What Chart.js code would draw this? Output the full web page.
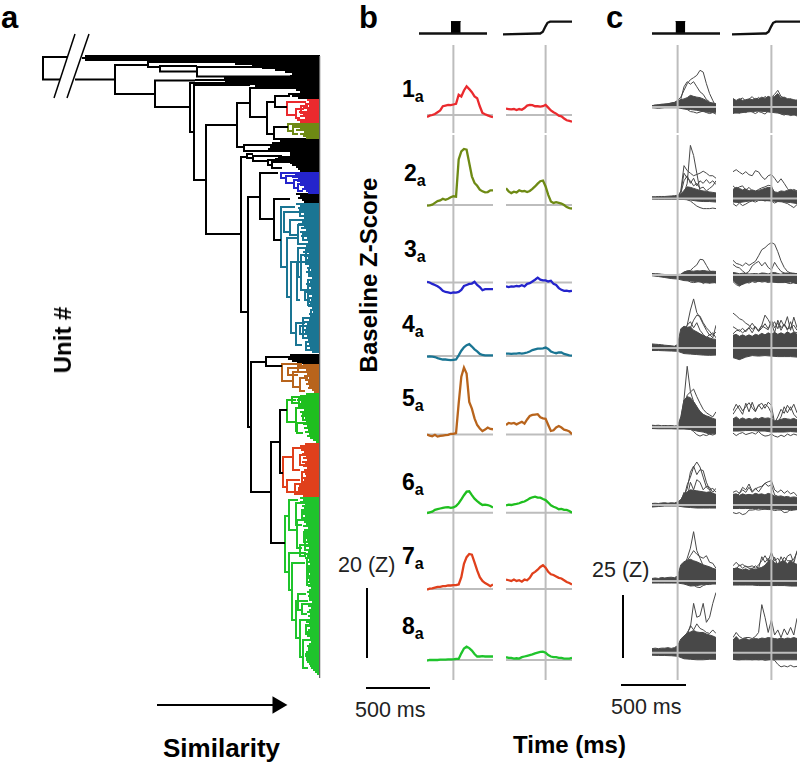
<!DOCTYPE html>
<html>
<head>
<meta charset="utf-8">
<script src="https://cdn.jsdelivr.net/npm/chart.js@4/dist/chart.umd.min.js"></script>
<style>
  body { margin: 0; background: #fff; width: 800px; height: 766px; position: relative; overflow: hidden; font-family: "Liberation Sans", Arial, sans-serif; color: #000; }
  canvas { position: absolute; }
  .t { position: absolute; white-space: nowrap; line-height: 1; }
  .panel { font-size: 31px; font-weight: bold; }
  .row { font-size: 23px; font-weight: bold; }
  .row sub { font-size: 16px; vertical-align: -5px; line-height: 0; }
  .scale { font-size: 21.5px; color: #222; }
  .axis { font-size: 24px; font-weight: bold; }
  .sim { font-size: 26px; }
  .rot { transform: translate(-50%, -50%) rotate(-90deg); }
</style>
</head>
<body>
<script>
// time grids, ms from the event
const bTimeLeft = [-200,-180,-160,-140,-120,-100,-80,-60,-40,-20,0,20,40,60,80,100,120,140,160,180,200,220,240,260,280,300];
const bTimeRight = [-300,-280,-260,-240,-220,-200,-180,-160,-140,-120,-100,-80,-60,-40,-20,0,20,40,60,80,100,120,140,160,180,200];
const cTimeLeft = [-200,-175,-150,-125,-100,-75,-50,-25,0,25,50,75,100,125,150,175,200,225,250,275,300];
const cTimeRight = [-300,-275,-250,-225,-200,-175,-150,-125,-100,-75,-50,-25,0,25,50,75,100,125,150,175,200];
const cLowTimeLeft = [-200,-150,-100,-50,0,50,100,150,200,250,300];
const cLowTimeRight = [-300,-250,-200,-150,-100,-50,0,50,100,150,200];

// panel b, cluster means (Z)
const b1L = [-.6,-.2,0,.3,.8,1.3,2.5,2.7,2.9,2.8,3,3.2,5.8,5.3,7,8.2,7.4,6.5,5.3,4.8,2.5,.6,.2,-.1,-.4,-.6];
const b1R = [1.8,1.7,1.6,1.7,1.4,1.7,1.5,2,2.7,2.9,2.8,2.5,2.5,2.4,2.5,2.9,2.1,1.3,.8,.4,-.2,-.4,-1,-1.5,-1.7,-1.9];
const b2L = [-.2,-.1,.1,.6,1.1,1.3,1.8,1.5,1.8,2.2,2.5,2.4,13,15.3,16,15.8,12,8.2,6.3,5.5,4.4,3.9,3.6,3.7,4.2,4.2];
const b2R = [4.8,3.9,3.4,3.8,3.6,4.2,3.9,4,3.7,4,4.6,5.3,6.1,6.8,7,5.3,2.9,1,.6,.8,.6,.4,0,-.6,-.9,-1];
const b3L = [.2,0,-.4,-.7,-1.1,-1.6,-2.4,-2.7,-2.8,-3,-2.8,-2.9,-2.7,-2.1,-1,-.7,-.4,-.3,.2,-.7,-1.3,-2.2,-1.9,-1.9,-1.9,-1.9];
const b3R = [-1.1,-1.3,-1.1,-1.2,-1,-1.1,-.8,-1.1,-.4,-.2,.3,.8,1.4,.8,.6,.6,.3,.5,-.4,-.7,-1.6,-2.1,-2.4,-2.3,-2.5,-2.4];
const b4L = [-.2,-.1,-.2,-.3,-.6,-.8,-1,-1,-1.1,-1.2,-1.1,-1,.2,1.5,2.5,3.1,3.4,2.7,1.9,1.3,.6,.3,.2,.2,.2,.2];
const b4R = [.7,.7,.6,.7,.7,.8,.7,.8,1,1.3,1.7,1.9,2.1,2.1,2.2,2.4,2,1.3,1,.8,1,1,.6,.4,.2,.1];
const b5L = [0,-.3,-.5,-.1,-.6,-.4,-.3,-.2,-.1,.2,.2,.4,8.9,16.5,19.1,17.4,9.3,7.4,4.6,2.7,1.7,1,1.4,2,1.6,1.5];
const b5R = [2.7,3.3,3.1,3.3,2.9,3.3,3.6,3.1,4.3,5.3,5.6,5.7,5.8,4.9,4.6,4.5,2.7,1,1.2,2,2.4,2,1.4,1.2,.9,.1];
const b6L = [-.1,.1,.3,.8,1,1.2,1.4,1.5,1.6,1.4,1.5,1.9,2.7,3.8,5,6,6.1,5,4,3.3,2.7,2.2,2.3,2.2,1.9,1.5];
const b6R = [2.1,2.3,2.2,2.4,2.5,2.7,3,3.2,3.6,4.1,4.4,4.6,4.3,4.3,3.9,3.6,2.9,2.1,1.7,1.4,1,1.1,.8,.8,.5,0];
const b7L = [-.2,.1,.2,.4,.6,.6,.8,.8,1,1,1.1,1.1,1.3,3.4,7.2,9.1,10,9.8,7.6,5.3,3.4,2.3,1.7,1.3,.8,1.3];
const b7R = [2.7,2.5,2.3,2.7,2.3,2.5,2.1,2.7,2.5,3.2,4.4,4.9,5.5,6.3,6.8,6.1,4.9,4.2,4,3.6,3.2,3,2.5,2,1.7,1.3];
const b8L = [-.2,0,0,0,0,.1,.1,.1,.2,.2,.2,.3,.3,1.9,3.3,3.8,3.4,2.7,1.7,1,1,1.1,1,1,1,1];
const b8R = [.8,.6,.6,.4,.5,.4,.8,1,1.2,1.4,1.6,1.9,2.1,2.3,2.4,2.1,1.4,1,.8,.8,.6,.6,.4,.4,.4,.6];
const clusterColors = ['#ea2a2e', '#6e8a14', '#2424cc', '#1a7593', '#b8641c', '#1fbf1f', '#e0401c', '#1fc42c'];

// panel c, envelope of the dense unit traces plus the units that stand out (Z)
const c1LU = [.5,.7,.9,1.1,1.2,1.3,1.6,1.8,2.4,2.9,3.2,3.7,4.6,4.2,3.9,3.7,3.2,2.6,1.8,1.6,1.3];
const c1LD = [-.3,-.5,-.3,-.3,-.3,-.8,-1,-1.3,-1.8,-2.1,-2.1];
const c1LT = [
  [.5,.8,.6,1,.9,1.2,1.5,1.8,2.6,3.9,6.6,9.2,10.8,11.6,12.5,14.5,13.8,9.2,5.3,2.6,0],
  [.3,.5,.9,.7,1.1,1,1.4,1.5,2,3,8,10,9,10,8,6,5,3,2,.5,-.5],
  [0,.2,-.2,.1,0,-.2,.2,.3,.4,0,-.5,-1,-1.8,-2,-2.4,-2,-1.6,-2.2,-2.6,-2.2,-2.8]];
const c1RU = [3.3,2.6,3.3,2.6,2.9,3.2,2.9,3.4,3.2,3.9,3.4,4.2,3.7,4.2,5.3,3.6,3.9,3.3,3.2,2.9,2.6];
const c1RD = [-2.4,-2.4,-2,-1.8,-1.6,-1.8,-2.1,-2.4,-2.9,-3.2,-3.2];
const c1RT = [
  [3.4,1.8,2.9,3.6,2.2,3.1,4.1,2.7,3.8,2.6,4.2,3,3.8,5,6.6,4.2,3.6,2.4,3.2,2.2,2.8],
  [-2.6,-1.8,-2.4,-1.6,-2.2,-1.4,-2,-2.6,-1.8,-2.2,-2.8,-1.6,-2.2,-1.4,-2,-2.8,-3.2,-2.6,-3.4,-2.8,-3.6]];

const c2LU = [.7,.7,.8,.8,.8,.9,1,1.1,1.3,1.6,3.2,4.6,4.4,4,3.6,3.2,3,2.8,2.6,2.4,2.2];
const c2LD = [-.3,-.4,-.4,-.4,-.4,-.4,-.6,-1,-1.2,-1.2,-1.4];
const c2LT = [
  [null,null,null,null,null,null,null,null,.5,1,2,6,21,17,10,3,1.5,1,1.6,1.4,1.2],
  [null,null,null,null,null,null,null,null,.6,3,13,11,10,9,9.5,10,10.8,10,9,9,8],
  [null,null,null,null,null,null,null,null,.4,2.5,10,8,7,5,6,4,4.5,3,4,5,7],
  [null,null,null,null,null,null,null,null,.4,2,7,9,6,8,5,7,6,7.5,6,7,5.5],
  [null,null,null,null,null,null,null,null,0,0,0,-.5,-1,-2,-3,-3.6,-4,-4,-4,-3.8,-4]];
const c2RU = [3.6,4.4,4,3.4,3.8,3,3.4,3,3.2,3.6,4,4.4,4.2,2.6,2.4,3,2.8,3.2,3.6,3.2,2.8];
const c2RD = [-1.4,-1.6,-1.2,-.8,-.6,-.8,-1,-1.2,-1.4,-1.6,-2];
const c2RT = [
  [10.6,11.4,10.4,9.6,10.6,9.4,9,11,10.5,8.6,7.5,9,9.5,8,6.2,7.8,6,4,2.2,1.4,1],
  [5,3.8,4.6,5,3.2,4.4,3,2.8,3.6,4.2,4.6,5.2,5,2,.5,1.4,.6,1.8,2.6,3.6,3],
  [-2,-3,-1.8,-2.8,-2.2,-1.4,-1,-1.4,-.8,-.6,-1,-.6,-1,-1.8,-1.2,-1,-1.6,-2,-2.8,-3.6,-2.4]];

const c3LU = [.6,.5,.5,.3,.2,.1,0,-.1,.2,.3,1.2,1.6,1.6,1.5,1.7,1.6,1.8,1.6,1.4,1.5,1.4];
const c3LD = [-.3,-.6,-1,-1.4,-1.6,-2.2,-2.4,-2.6,-3,-3.2,-3];
const c3LT = [
  [null,null,null,null,null,null,null,null,null,.2,1,1.6,1.8,3,4,6.2,6,3.8,1.6,1.2,.9],
  [null,null,null,null,null,null,null,null,null,-1,-1.6,-2,-2.8,-3,-2.8,-2.2,-3.4,-2.6,-3.2,-2.6,-3.2]];
const c3RU = [1,.8,.5,.7,.6,.4,.5,.6,.4,.8,.7,.4,.9,1,.6,.3,.7,.8,.6,.7,.5];
const c3RD = [-2.2,-4.2,-3.2,-2.4,-2.6,-2.4,-2.8,-3,-3,-2.8,-3.4];
const c3RT = [
  [5.8,4.6,4.2,3.6,4.8,3.8,4.6,5.4,7.6,10,10.8,12,12.8,12.2,9.2,5.6,3,1.4,.8,.6,.4],
  [4.2,3.2,2.8,1.6,.6,1.4,3.6,4.6,5.4,3.6,5,3,2,5,3,1.4,.8,.2,.8,.4,.6],
  [-2.6,-3.8,-4.4,-3.4,-2.8,-3.2,-2.6,-3,-2.4,-2.8,-2.6,-3,-2.6,-2.4,-3,-2.8,-2.6,-3.2,-3.4,-3,-3.4]];

const c4LU = [1.6,1.5,1.4,1.3,1.1,1,.9,.7,1.4,7.6,8.6,8.2,8.4,7,6.4,5.6,5,4.4,4,3.6,3.4];
const c4LD = [-1,-1,-1.1,-1.2,-1.3,-2.2,-2.4,-2.6,-2.8,-2.9,-2.8];
const c4LT = [
  [null,null,null,null,null,null,null,null,1,3,6,9,15,19.4,14,12,9.4,7,5,6,4],
  [null,null,null,null,null,null,null,null,1,4,8,7,8,11,13,12.6,10,8,6.6,5,6.4],
  [null,null,null,null,null,null,null,null,1,4,7,9,10.4,8,10,7,5.4,4,5.4,4,9]];
const c4RU = [5,5.4,4.6,5.2,4.6,5.2,4.6,5.4,5,5.8,5.2,6,5.4,6.2,5.4,6,5.4,6.4,5.6,6.2,5.4];
const c4RD = [-3.8,-4.6,-3.6,-3,-3.2,-3,-3.2,-3.4,-3.4,-3.4,-3.6];
const c4RT = [
  [13.8,12.8,11.6,11,9.8,9,7.4,8.4,6.6,7.8,9.6,7.6,10,6,11,8,9.4,7,10.4,6.4,6],
  [8.4,7.6,6.6,7.8,6.4,8,9.8,8,7,9,13,11.2,8.8,10.4,7.6,11,8.6,12.4,7,12.2,8],
  [5.6,6.8,7.2,6,7,8,6,8.4,6.6,8.8,8,7.2,11,8,10,7,9.4,7.6,8,9,7]];

const c5LU = [.7,.6,.7,.5,.6,.5,.6,.4,.5,4,10.6,12,11.6,10,8,6.2,5,4.4,4,3.4,3];
const c5LD = [-.6,-.7,-.7,-.7,-.8,-.8,-1,-1.6,-2,-2.8,-2.6];
const c5LT = [
  [null,null,null,null,null,null,null,null,.4,3,11,24,14,10,8,5,3,2,1.4,1.6,2.8],
  [null,null,null,null,null,null,null,null,.4,2,8,12.6,13.8,15,12,9.4,7,5.6,4.8,4,6],
  [null,null,null,null,null,null,null,null,.2,0,-.2,-.4,-.8,-1.8,-3,-3.6,-3,-3.4,-2.8,-3.2,-2.6]];
const c5RU = [3.2,4,3,3.6,3,3.4,3,3.6,3.2,3.8,3.4,3.6,3.2,2.4,2.6,3,3.4,3.2,3,3.4,2.8];
const c5RD = [-1.6,-1.6,-1.4,-1.4,-1.6,-1.6,-2,-2,-2,-1.8,-2];
const c5RT = [
  [6.4,9,7,5,9.4,6,9.8,6.4,8.6,9.4,7.4,9.8,8.6,1.6,4,7,5.4,8.6,6.6,9,5.6],
  [5,7,8.6,6.4,8,9.6,7.6,6,8.8,7,9,8,5.4,1,2,4,8,5.6,8,5,3.6],
  [-2.4,-3.4,-2.6,-2.2,-3,-2.6,-2.2,-2.8,-1.8,-3,-3.6,-3.4,-2.8,-3.6,-4,-3.2,-3.8,-2.8,-3.4,-2.8,-3.2]];

const c6LU = [.6,.7,.6,.8,.9,.7,.9,.8,1.2,2,4.4,5.2,6,5.8,5.6,5.4,5.2,5,5.2,4.6,4.2];
const c6LD = [-.8,-.6,-.4,-.4,-.4,-.8,-1,-1.2,-1.2,-1.2,-1.2];
const c6LT = [
  [null,null,null,null,null,null,null,null,1.2,2,3,8,11,15,17,15,11,7,6,4,3],
  [null,null,null,null,null,null,null,null,1,2,4,6.4,13,15.4,12,14,13.6,9,6,6.6,5],
  [null,null,null,null,null,null,null,null,.8,1.4,5,3,9,6,10,9,6,7.4,7,5,6.6]];
const c6RU = [4.2,4.4,3.8,4.4,4,4.2,4,4.6,4.2,4.4,4,4.6,4.2,3.6,3.4,3.6,3.2,3.4,3,3.2,3];
const c6RD = [-1.4,-1.4,-1.4,-1.4,-1.4,-1.6,-1.6,-1.6,-1.8,-1.8,-1.8];
const c6RT = [
  [5,5.6,4.6,7,6,8.3,5.4,6.6,5.2,7,8.6,9.2,9.6,6,5,6,4.6,5.6,4.4,5,3.6],
  [-3,-3.4,-3,-3.8,-3.4,-2,-2,-1.8,-2,-1.8,-1.6,-1.8,-1.8,-2.2,-2,-2,-3,-2.8,-1.6,-1.6,-1.6],
  [2,3,4.6,6,5,7,5,6.4,7,7.4,8.6,7.4,8,4,3.4,2,-1.4,-1.8,-2.2,-2,-1.8]];

const c7LU = [1,1.2,1,1.4,1.2,1.4,1.5,1.3,2,6.4,7.6,8.2,8.6,8,7.6,7,6.4,6,5.6,5,4.6];
const c7LD = [-.8,-.8,-.8,-.8,-.8,-1.2,-2,-1.8,-1.4,-1.2,-1.2];
const c7LT = [
  [null,null,null,null,null,null,null,null,1.4,3,6,9,13,19.5,12,9,6,5,4,3.6,3],
  [null,null,null,null,null,null,null,null,1,3,5,8,10,12,10.6,9.6,9,10,7.4,7,5],
  [null,null,null,null,null,null,null,null,.6,0,-.4,-.6,-1,-1.6,-2.4,-2.6,-1.8,-1.4,-1.4,-1,-1]];
const c7RU = [4.6,5.2,4.8,4.4,4.8,4.2,4.8,4.6,5,5.4,6.2,7.8,8.6,7.2,6.8,7.6,8,6.8,8,7,6.6];
const c7RD = [-1.6,-1.6,-1.6,-1.6,-1.8,-1.8,-1.8,-1.8,-1.8,-2,-2];
const c7RT = [
  [6,7.4,6,6.6,5.6,5.6,6,5,6.4,8,10,7.8,11.4,8,9,7,9.4,8,8,8.6,11.4],
  [5,4.6,6.4,5,6,5,5,6,5,9.6,7.4,9,6.6,9.4,6,9.6,7,9.8,10.6,7,12]];

const c8LU = [1.6,1.8,1.6,1.8,1.8,2,1.7,2,2.8,5.4,6.6,7.8,8.2,8.8,8.2,8,8,7.4,7,6.6,6];
const c8LD = [-1,-1.1,-1.1,-1.2,-1.4,-2.4,-2.6,-2.8,-2.8,-2.6,-2.6];
const c8LT = [
  [null,null,null,null,null,null,null,null,2,3,5,8,10,19.5,14,14.6,19.5,12,14,19.5,23.8],
  [null,null,null,null,null,null,null,null,2,3,4,7,10.8,9,11.4,9.6,9,8,7.6,9,7.6]];
const c8RU = [5,6.4,5,5.4,5.6,5,5.4,5.6,5.4,5.8,5.6,6,5.8,5.6,5.4,5.8,5.4,5.8,5.6,6,5.6];
const c8RD = [-2.6,-2.8,-2.8,-2.8,-2.8,-2.8,-2.8,-2.8,-2.8,-2.8,-2.8];
const c8RT = [
  [6,8,6.4,5.6,6,6,5.6,6.4,8,19,14,8,13,7,9,6,9.4,7,10,7,13.6],
  [-2.6,-2.8,-2.8,-2.6,-2.4,-2.6,-2.8,-2.6,-2.8,-2.6,-3,-2.8,-2.6,-3,-4.6,-5.6,-5.2,-5.6,-5,-5.6,-5.4]];

// stimulus traces at the top of panels b and c
const stimPulseT = [-19, 55];
const stimRiseT = [-330, -60, -40, -20, 0, 15, 35, 220];
const stimRise = [-.08, 0, 0, .15, .6, .9, 1, 1];

// panel a: branch points as [x, top y, top end x, bottom y, bottom end x]
const linksBlack = [
  [43,57,67,79.5,60],[75,79.5,115,79.5,75],[115,65,148,94,155],[148,62,240,67,160],[160,66,197,71.5,197],[197,67,270,76.5,290],
  [155,80.5,195,107,190],[190,83,225,132,194],[194,85,250,180,206],[206,125,237,234,241],[237,103,250,147,244],[250,88,282,117,267],
  [267,102,275,134,274],[275,96,290,107,287],[274,127,288,139,295],[244,145,272,151,258],[241,157,247,312,248],
  [247,154,253,158,253],[253,156,282,161,268],[268,160,285,165,272],[272,162,292,168,282],
  [248,197,260,427,251],[260,173,278,219,274],[274,199,290,240,281],[251,362,266,492,271],[266,357,285,366,282],
  [271,442,280,543,285],[280,410,287,473,283]];
const linksRed = [[287,102,306,115,296],[296,109,304,118,300],[301,106,308,113,306]];
const linksOlive = [[288,124,298,131,293],[293,127,302,134,298]];
const linksBlue = [[281,173,292,178,286],[286,176,296,183,294],[294,180,302,188,298],[298,184,306,191,303]];
const linksTeal = [[281,207,295,267,287],[284,212,300,232,290],[290,220,308,235,298],[287,238,298,297,291],[291,262,297,333,296],
  [298,248,308,277,301],[301,255,310,290,308],[308,280,314,305,311],[296,323,305,345,302],[303,318,312,338,308],[297,262,306,300,300],
  [300,208,312,216,305],[305,212,314,222,309],[298,225,310,244,303],[303,232,313,240,308],[306,250,314,262,310],[309,268,316,276,313],
  [305,292,315,300,310],[311,310,317,320,314],[300,326,310,334,306],[306,342,313,350,309],[302,205,306,212,304]];
const linksBrown = [[282,364,302,381,293],[288,368,303,375,298],[293,372,305,387,300],[300,378,308,391,305],[298,366,306,372,303]];
const linksGreenA = [[287,400,296,422,296],[292,397,300,403,298],[296,408,302,431,297],[297,423,306,433,303],[303,412,310,420,307],[299,398,306,406,303]];
const linksOrange = [[283,457,293,487,287],[293,448,303,470,300],[287,480,300,492,295],[300,455,308,465,306],[302,472,309,482,306],[295,484,304,494,300]];
const linksGreenB = [[285,516,290,572,289],[289,500,298,530,296],[296,503,306,525,302],[302,512,309,520,307],[297,520,304,548,302],
  [289,553,306,590,292],[292,563,305,620,296],[296,601,308,638,300],[300,620,310,657,303],[303,640,312,668,308],[307,558,314,585,312],[305,530,312,550,310],
  [306,505,314,515,310],[304,532,312,542,308],[300,545,310,556,306],[308,570,316,578,312],[310,590,316,600,314],[302,604,312,614,307],
  [306,625,315,634,310],[309,646,316,656,312],[298,594,306,610,303],[311,612,317,626,314]];

// panel a: where each unit's leaf starts, one entry per 2 rows
const leavesTop = [85,82,85,205,235,252,262,275,285,292,290,224,195,225,222,255,277,296,300,288,292,298];
const leavesRed = [307,309,305,309,303,307,299,303,300,305,297,300];
const leavesOlive = [297,292,300,296,304,300,303,306];
const leavesMid = [283,280,272,272,270,268,258,290,290,278,275,285,290,292,296,298,300];
const leavesBlue = [292,295,292,298,297,300,300,304,302,306,308];
const leavesGap = [296,300,298,302,304];
const leavesTeal = [296,300,298,303,299,304,301,306,299,302,298,304,301,306,300,304,301,307,303,308,302,306,301,305,303,309,304,308,306,310,305,309,307,311,306,310,308,312,307,310,306,309,311,307,310,308,312,309,311,307,310,308,312,310,313,309,311,306,309,304,307,303,306,302,305,303,307,304,308,305,309,306,310,309,312];
const leavesLow = [290,285,288,292,297];
const leavesBrown = [303,305,300,306,303,307,304,309,305,308,306,309,308,312,314];
const leavesGreenA = [306,300,303,297,301,298,302,299,304,300,303,301,305,302,306,303,307,304,308,305,309,307,310,313,316];
const leavesOrange = [305,300,303,301,304,302,306,303,307,302,305,303,307,304,308,305,306,303,304,302,301,299,298,298,296,299,303];
const leavesGreenB = [300,303,300,305,302,304,301,306,303,305,302,307,304,306,303,308,305,307,304,306,303,307,305,308,305,309,306,308,304,307,305,309,307,310,308,306,309,307,310,308,311,309,307,310,308,311,309,307,310,308,311,309,312,310,308,311,309,307,310,308,311,309,306,309,307,310,308,306,309,307,310,308,311,309,307,310,308,306,305,305,306,306,307,309,310,311,313,315,317,319];

const rowBaseB = [115, 205, 282.5, 356, 434.5, 512.7, 589, 660];
const rowBoundsB = [[45,133],[135,240],[240,320],[320,363],[363,470],[470,550],[550,625],[625,680]];
const rowBaseC = [107, 198.5, 275, 348, 427, 505, 581, 652.7];
const rowBoundsC = [[45,133],[135,237],[237,292],[292,364],[364,450],[450,525],[525,590],[590,680]];
const rowNames = ['1', '2', '3', '4', '5', '6', '7', '8'];
const gray = '#bdbdbd', cDark = '#484848';

Chart.defaults.animation = false;
Chart.defaults.events = [];

function xy(xs, ys) {
  return xs.map((x, i) => ({x, y: ys[i]}));
}
function line(data, color, width, extra) {
  return Object.assign({data, borderColor: color, borderWidth: width, pointRadius: 0, showLine: true, fill: false, tension: 0, spanGaps: false}, extra);
}

// one small chart at a fixed place on the page, scales hidden so the plot area is the whole canvas
function place(left, right, top, bottom, xRange, yRange, datasets) {
  const canvas = document.createElement('canvas');
  canvas.width = right - left;
  canvas.height = bottom - top;
  canvas.style.left = left + 'px';
  canvas.style.top = top + 'px';
  document.body.appendChild(canvas);
  return new Chart(canvas, {
    type: 'scatter',
    data: {datasets},
    options: {
      responsive: false,
      maintainAspectRatio: false,
      layout: {padding: 0, autoPadding: false},
      plugins: {legend: {display: false}, tooltip: {enabled: false}},
      scales: {
        x: {type: 'linear', display: false, min: xRange[0], max: xRange[1]},
        y: {type: 'linear', display: false, min: yRange[0], max: yRange[1], reverse: yRange[0] > yRange[1]}
      }
    }
  });
}

function cell(left, right, xRange, bounds, base, pxPerZ, build) {
  const yRange = [(base - bounds[1]) / pxPerZ, (base - bounds[0]) / pxPerZ];
  const event = line(xy([0, 0], yRange), gray, 2);
  const zero = line(xy(xRange, [0, 0]), gray, 2);
  place(left, right, bounds[0], bounds[1], xRange, yRange, build(event, zero));
}

function drawB(left, right, xRange, times, series) {
  series.forEach((values, i) => {
    cell(left, right, xRange, rowBoundsB[i], rowBaseB[i], 3.5, (event, zero) => [
      line(xy(times, values), clusterColors[i], 2.3),
      event, zero
    ]);
  });
}

function drawC(left, right, xRange, times, lowTimes, series) {
  series.forEach((s, i) => {
    cell(left, right, xRange, rowBoundsC[i], rowBaseC[i], 2.53, (event, zero) => {
      const traces = s.traces.map(values => line(xy(times, values), cDark, 1));
      const first = 2 + traces.length;
      return [event, zero, ...traces,
        line(xy(times, s.up), cDark, 1, {fill: first + 1, backgroundColor: cDark}),
        line(xy(lowTimes, s.low), cDark, 1)];
    });
  });
}

function stim(left, right, xRange, kind) {
  const yRange = [-.375, 1.3];
  if (kind === 'pulse') {
    place(left, right, 18, 38, xRange, yRange, [
      line(xy(xRange, [0, 0]), '#111', 2.3),
      line(xy(stimPulseT, [1, 1]), '#000', 1, {fill: {value: 0}, backgroundColor: '#000'})
    ]);
  } else {
    place(left, right, 18, 38, xRange, yRange, [line(xy(stimRiseT, stimRise), '#111', 2.3)]);
  }
}

function addLinks(links) {
  const points = [];
  links.forEach(([x, yTop, xTop, yBot, xBot]) => {
    points.push({x: xTop, y: yTop}, {x, y: yTop}, {x, y: yBot}, {x: xBot, y: yBot}, {x: NaN, y: NaN});
  });
  return points;
}
function addLeaves(firstRow, starts) {
  const points = [];
  starts.forEach((x, i) => {
    const y = firstRow + i * 2;
    points.push({x, y}, {x: 320, y}, {x: NaN, y: NaN});
  });
  return points;
}

// panel a
place(40, 321, 30, 682, [40, 321], [682, 30], [
  line(xy([319.6, 319.6], [56, 678]), '#666', 1),
  line(addLinks(linksBlack), '#000', 2),
  line(addLinks(linksRed), clusterColors[0], 2),
  line(addLinks(linksOlive), clusterColors[1], 2),
  line(addLinks(linksBlue), clusterColors[2], 2),
  line(addLinks(linksTeal), clusterColors[3], 2),
  line(addLinks(linksBrown), clusterColors[4], 2),
  line(addLinks(linksGreenA), clusterColors[5], 2),
  line(addLinks(linksOrange), clusterColors[6], 2),
  line(addLinks(linksGreenB), clusterColors[7], 2),
  line(addLeaves(56, leavesTop), '#000', 2.2),
  line(addLeaves(100, leavesRed), clusterColors[0], 2.2),
  line(addLeaves(124, leavesOlive), clusterColors[1], 2.2),
  line(addLeaves(139, leavesMid), '#000', 2.2),
  line(addLeaves(173, leavesBlue), clusterColors[2], 2.2),
  line(addLeaves(194, leavesGap), '#000', 2.2),
  line(addLeaves(204, leavesTeal), clusterColors[3], 2.2),
  line(addLeaves(355, leavesLow), '#000', 2.2),
  line(addLeaves(364, leavesBrown), clusterColors[4], 2.2),
  line(addLeaves(394, leavesGreenA), clusterColors[5], 2.2),
  line(addLeaves(444, leavesOrange), clusterColors[6], 2.2),
  line(addLeaves(498, leavesGreenB), clusterColors[7], 2.2),
  line(xy([75, 54], [34, 98]), '#000', 1.5),
  line(xy([89, 67], [34, 98]), '#000', 1.5)
]);

// panel b
stim(419, 487, [-262, 255], 'pulse');
stim(503, 572, [-321, 200], 'rise');
drawB(427, 493, [-200, 300], bTimeLeft, [b1L, b2L, b3L, b4L, b5L, b6L, b7L, b8L]);
drawB(506, 572, [-300, 200], bTimeRight, [b1R, b2R, b3R, b4R, b5R, b6R, b7R, b8R]);

// panel c
stim(652, 720, [-198, 319], 'pulse');
stim(732, 800, [-300, 220], 'rise');
drawC(652, 716, [-200, 300], cTimeLeft, cLowTimeLeft, [
  {up: c1LU, low: c1LD, traces: c1LT}, {up: c2LU, low: c2LD, traces: c2LT},
  {up: c3LU, low: c3LD, traces: c3LT}, {up: c4LU, low: c4LD, traces: c4LT},
  {up: c5LU, low: c5LD, traces: c5LT}, {up: c6LU, low: c6LD, traces: c6LT},
  {up: c7LU, low: c7LD, traces: c7LT}, {up: c8LU, low: c8LD, traces: c8LT}]);
drawC(733, 797, [-300, 200], cTimeRight, cLowTimeRight, [
  {up: c1RU, low: c1RD, traces: c1RT}, {up: c2RU, low: c2RD, traces: c2RT},
  {up: c3RU, low: c3RD, traces: c3RT}, {up: c4RU, low: c4RD, traces: c4RT},
  {up: c5RU, low: c5RD, traces: c5RT}, {up: c6RU, low: c6RD, traces: c6RT},
  {up: c7RU, low: c7RD, traces: c7RT}, {up: c8RU, low: c8RD, traces: c8RT}]);

// scale bars
place(362, 372, 588, 658, [-1, 1], [0, 20], [line(xy([0, 0], [0, 20]), '#000', 2)]);
place(366, 430, 683, 693, [0, 500], [-1, 1], [line(xy([0, 500], [0, 0]), '#000', 2)]);
place(618, 628, 595, 658, [-1, 1], [0, 25], [line(xy([0, 0], [0, 25]), '#000', 2)]);
place(621, 686, 680, 690, [0, 500], [-1, 1], [line(xy([0, 500], [0, 0]), '#000', 2)]);

// similarity arrow
place(157, 292, 690, 720, [0, 1.098], [-1, 1], [
  line(xy([0, .98], [0, 0]), '#000', 2, {clip: false, pointRadius: [0, 8], pointStyle: 'triangle', pointRotation: 90, pointBackgroundColor: '#000', pointBorderColor: '#000'})
]);

// text
function text(str, x, y, cls) {
  const el = document.createElement('div');
  el.className = 't ' + cls;
  el.innerHTML = str;
  el.style.left = x + 'px';
  el.style.top = y + 'px';
  document.body.appendChild(el);
}
text('a', 1, 2, 'panel');
text('b', 359, 2, 'panel');
text('c', 606, 2, 'panel');
text('Unit #', 63, 340, 'axis rot');
text('Baseline Z-Score', 369, 275, 'axis rot');
text('Similarity', 163, 735, 'axis sim');
text('Time (ms)', 513, 733, 'axis');
const rowLabelX = [402, 404, 404, 402, 402, 402, 402, 402];
const rowLabelY = [78, 162, 238, 313, 387, 471, 545, 615];
rowNames.forEach((n, i) => text(n + '<sub>a</sub>', rowLabelX[i], rowLabelY[i], 'row'));
text('20 (Z)', 338, 555, 'scale');
text('500 ms', 355, 700, 'scale');
text('25 (Z)', 592, 560, 'scale');
text('500 ms', 611, 697, 'scale');
</script>
</body>
</html>
